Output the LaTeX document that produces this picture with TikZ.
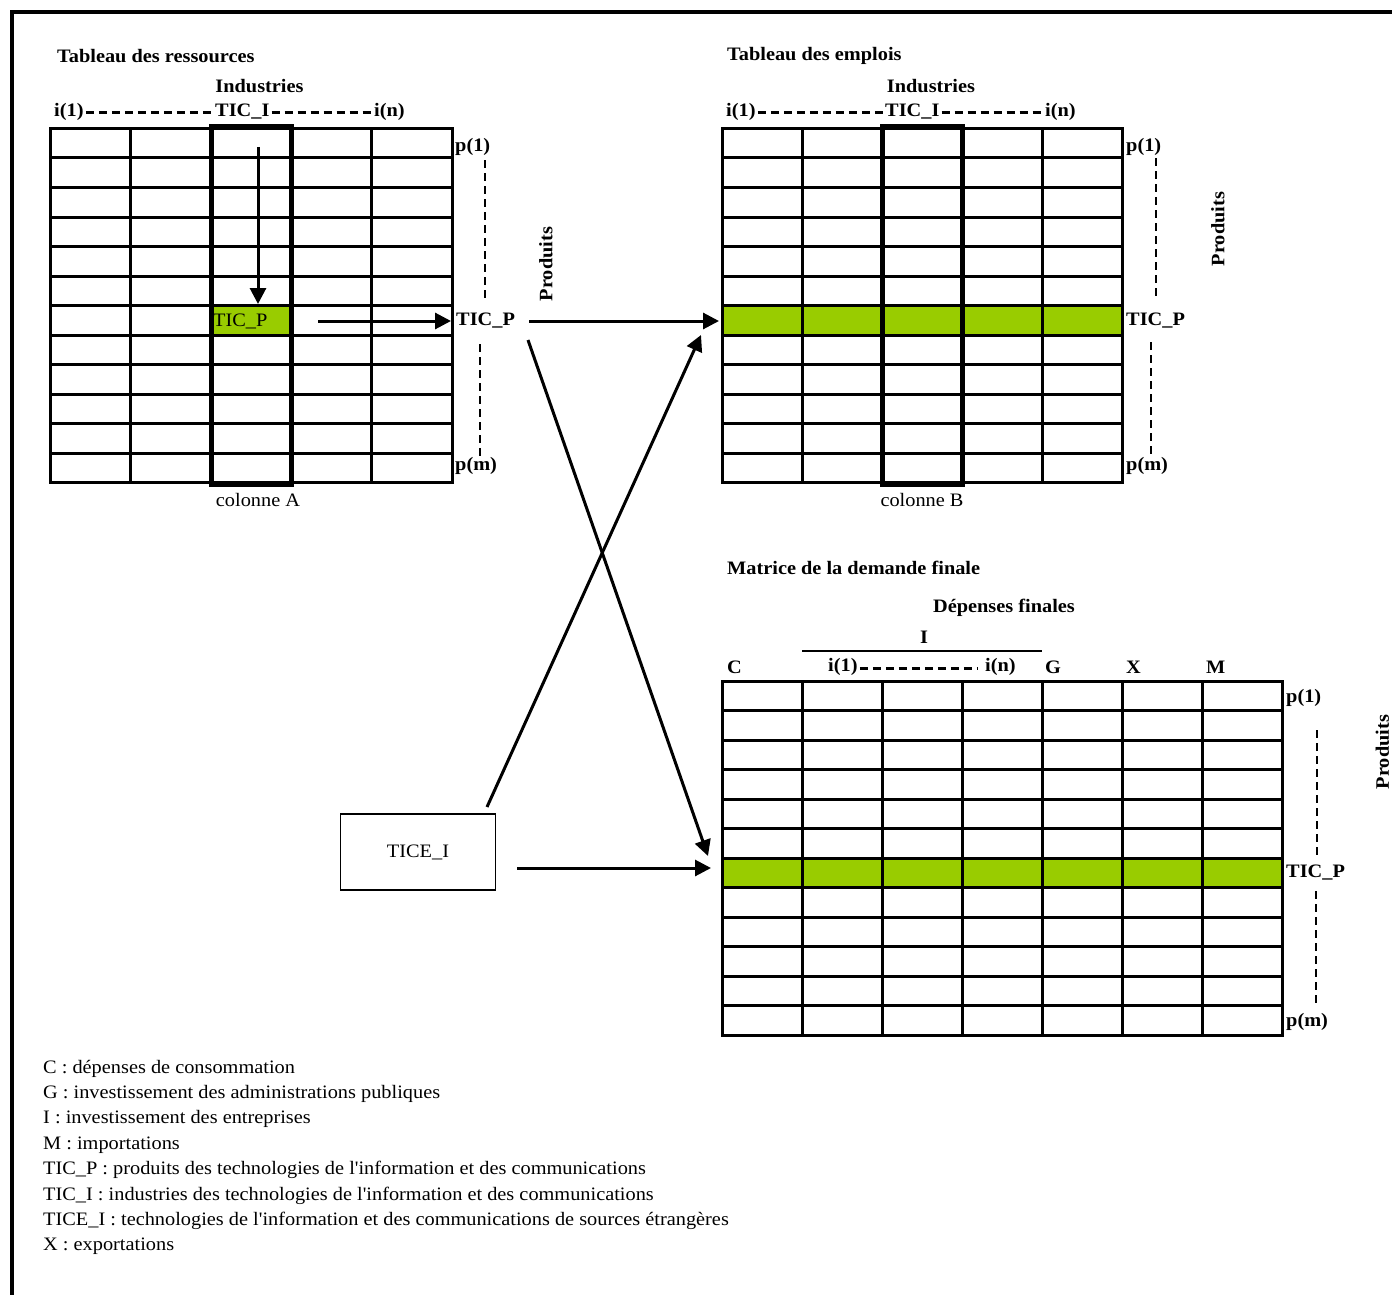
\documentclass[tikz,border=0pt]{standalone}
\usepackage{fontspec}
\setmainfont{Liberation Serif}[FakeStretch=1.07, Ligatures=TeXOff]
\usetikzlibrary{arrows.meta,calc}
\definecolor{ticgreen}{RGB}{153,204,0}
\begin{document}
\begin{tikzpicture}[x=1pt,y=-1pt,
  lbl/.style={inner sep=0pt, anchor=west, font=\fontsize{19}{23}\selectfont\bfseries},
  txt/.style={inner sep=0pt, anchor=west, font=\fontsize{19}{23}\selectfont},
  leg/.style={inner sep=0pt, anchor=base west, font=\fontsize{19}{23}\selectfont},
  gridln/.style={line width=3pt},
  thickcol/.style={line width=5pt},
  arr/.style={line width=3pt, -{Triangle[length=16pt,width=16pt]}},
  vdash/.style={line width=2.8pt, dash pattern=on 8pt off 5pt},
  hdash/.style={line width=3pt, dash pattern=on 8pt off 5pt},
  box/.style={draw, line width=1.5pt, minimum width=155pt, minimum height=76pt, inner sep=0pt, font=\fontsize{19}{23}\selectfont},
]
\useasboundingbox (0,0) rectangle (1392,1295);
% outer frame
\draw[line width=4pt] (12,1297) -- (12,12) -- (1394,12);

% ---------- Tableau des ressources ----------
\node[lbl] (tr) at (57,56) {Tableau des ressources};
\node[lbl, anchor=center] (indA) at (259.5,86) {Industries};
\node[lbl] (i1A) at (54,112) {i(1)};
\node[lbl] (ticiA) at (215,112) {TIC\_I};
\node[lbl] (inA) at (374,112) {i(n)};
\draw[hdash] ($(i1A.east)+(2,1)$) -- ($(ticiA.west)+(-2,1)$);
\draw[hdash] ($(ticiA.east)+(2,1)$) -- ($(inA.west)+(-2,1)$);
\fill[ticgreen] (211,305.5) rectangle (291,335);
\foreach \i in {1,...,4} \draw[gridln] ({50+80.4*\i},128.5) -- ({50+80.4*\i},482.5);
\foreach \j in {1,...,11} \draw[gridln] (50,{128.5+29.5*\j}) -- (452,{128.5+29.5*\j});
\draw[gridln] (50,128.5) rectangle (452,482.5);
\draw[thickcol] (211,127) rectangle (291,484);
\node[txt] (cellA) at (213,321) {TIC\_P};
\node[lbl] (p1A) at (455,147) {p(1)};
\node[lbl] (ticpA) at (456,321) {TIC\_P};
\node[lbl] (pmA) at (455,466) {p(m)};
\draw[vdash] (485,160) -- (485,298);
\draw[vdash] (480,344) -- (480,457);
\node[lbl, anchor=center, rotate=90] (prodA) at (546,264) {Produits};
\node[txt, anchor=center] (colA) at (258,500) {colonne A};
\coordinate (dA1) at (258,147);
\coordinate (dA2) at (258,304);
\coordinate (hA1) at (318,321);
\coordinate (hA2) at (451,321);
\draw[arr] (dA1) -- (dA2);
\draw[arr] (hA1) -- (hA2);

% ---------- Tableau des emplois ----------
\node[lbl] (te) at (727,56) {Tableau des emplois};
\node[lbl, anchor=center] (indB) at (931,86) {Industries};
\node[lbl] (i1B) at (726,112) {i(1)};
\node[lbl] (ticiB) at (885,112) {TIC\_I};
\node[lbl] (inB) at (1045,112) {i(n)};
\draw[hdash] ($(i1B.east)+(2,1)$) -- ($(ticiB.west)+(-2,1)$);
\draw[hdash] ($(ticiB.east)+(2,1)$) -- ($(inB.west)+(-2,1)$);
\fill[ticgreen] (722,305.5) rectangle (1122,335);
\foreach \i in {1,...,4} \draw[gridln] ({722+80*\i},128.5) -- ({722+80*\i},482.5);
\foreach \j in {1,...,11} \draw[gridln] (722,{128.5+29.5*\j}) -- (1122,{128.5+29.5*\j});
\draw[gridln] (722,128.5) rectangle (1122,482.5);
\draw[thickcol] (882,127) rectangle (962,484);
\node[lbl] (p1B) at (1126,147) {p(1)};
\node[lbl] (ticpB) at (1126,321) {TIC\_P};
\node[lbl] (pmB) at (1126,466) {p(m)};
\draw[vdash] (1156,158) -- (1156,298);
\draw[vdash] (1151,342) -- (1151,455);
\node[lbl, anchor=center, rotate=90] (prodB) at (1218,229) {Produits};
\node[txt, anchor=center] (colB) at (922,500) {colonne B};

% ---------- Matrice de la demande finale ----------
\node[lbl] (md) at (727,568) {Matrice de la demande finale};
\node[lbl, anchor=center] (dep) at (1004,608) {Dépenses finales};
\node[lbl, anchor=center] (Ilab) at (924,637) {I};
\draw[line width=2.5pt] (802,651) -- (1042,651);
\node[lbl] (Cl) at (727,667) {C};
\node[lbl] (i1C) at (828,667) {i(1)};
\node[lbl] (inC) at (985,667) {i(n)};
\draw[hdash] ($(i1C.east)+(2,1)$) -- ($(inC.west)+(-7,1)$);
\node[lbl] (Gl) at (1045,667) {G};
\node[lbl] (Xl) at (1126,667) {X};
\node[lbl] (Ml) at (1206,667) {M};
\fill[ticgreen] (722,858.5) rectangle (1282,887.5);
\foreach \i in {1,...,6} \draw[gridln] ({722+80*\i},681.5) -- ({722+80*\i},1035);
\foreach \j in {1,...,11} \draw[gridln] (722,{681.5+29.46*\j}) -- (1282,{681.5+29.46*\j});
\draw[gridln] (722,681.5) rectangle (1282,1035);
\node[lbl] (p1C) at (1286,698) {p(1)};
\node[lbl] (ticpC) at (1286,873) {TIC\_P};
\node[lbl] (pmC) at (1286,1022) {p(m)};
\draw[vdash] (1317,730) -- (1317,855);
\draw[vdash] (1316,891) -- (1316,1006);
\node[lbl, anchor=center, rotate=90] (prodC) at (1382.5,752) {Produits};

% ---------- TICE_I box and connectors ----------
\node[box] (tice) at (418,852) {TICE\_I};
\coordinate (tB1) at (529,321);
\coordinate (tB2) at (719,321);
\coordinate (dg1) at (528,340);
\coordinate (dg2) at (708,856);
\coordinate (up1) at (487,807);
\coordinate (up2) at (701,335);
\coordinate (tc1) at (517,868);
\coordinate (tc2) at (711,868);
\draw[arr] (tB1) -- (tB2);
\draw[arr] (dg1) -- (dg2);
\draw[arr] (up1) -- (up2);
\draw[arr] (tc1) -- (tc2);

% ---------- Legend ----------
\node[leg] (l1) at (43,1073) {C : dépenses de consommation};
\node[leg] (l2) at (43,1098.4) {G : investissement des administrations publiques};
\node[leg] (l3) at (43,1123.8) {I : investissement des entreprises};
\node[leg] (l4) at (43,1149.2) {M : importations};
\node[leg] (l5) at (43,1174.6) {TIC\_P : produits des technologies de l'information et des communications};
\node[leg] (l6) at (43,1200) {TIC\_I : industries des technologies de l'information et des communications};
\node[leg] (l7) at (43,1225.4) {TICE\_I : technologies de l'information et des communications de sources étrangères};
\node[leg] (l8) at (43,1250.8) {X : exportations};
\end{tikzpicture}
\end{document}
